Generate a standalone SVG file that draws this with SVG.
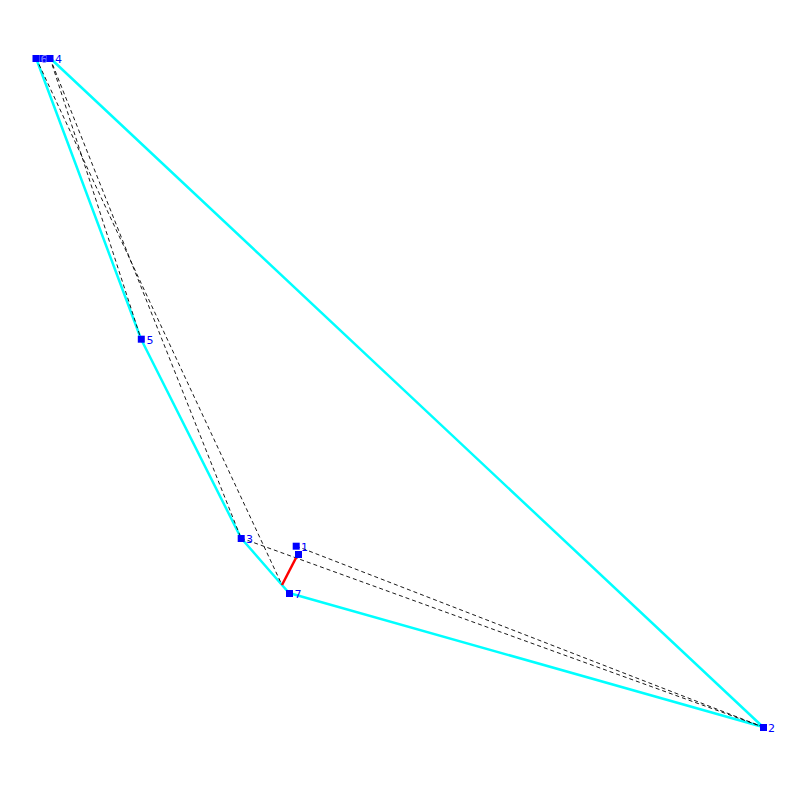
<svg xmlns="http://www.w3.org/2000/svg" width="800" height="800" viewBox="0 0 800 800">
<style>
.hull{stroke:#00ffff;stroke-width:2.5;fill:none;stroke-linejoin:round}
.hid{stroke:#000;stroke-width:0.9;stroke-dasharray:4 3;fill:none}
.red{stroke:#ff0000;stroke-width:2.5;fill:none}
.pt{fill:#0000ff}
.lbl{fill:#0000ff;font-family:"DejaVu Sans","Liberation Sans",sans-serif;font-size:11px}
</style>
<rect width="800" height="800" fill="#ffffff"/>
<g id="connectors">
<polyline class="hull" points="50,58 763,727 289,593 241,538 141,339 36,58"/>
<line class="hid" x1="50" y1="58" x2="141" y2="339"/>
<line class="hid" x1="50" y1="58" x2="241" y2="538"/>
<line class="hid" x1="36" y1="58" x2="282" y2="585"/>
<line class="hid" x1="241" y1="538" x2="763" y2="727"/>
<line class="hid" x1="296" y1="546" x2="763" y2="727"/>
<line class="red" x1="298" y1="554" x2="282" y2="585"/>
</g>
<g id="node-6"><rect class="pt" x="32.5" y="55" width="7" height="7"/><rect class="pt" x="39.5" y="55" width="7" height="7"/><text class="lbl" x="40.5" y="62.5" style="fill:#8080ff">6</text></g>
<g id="node-4"><rect class="pt" x="46.5" y="55" width="7" height="7"/><text class="lbl" x="55" y="62.5">4</text></g>
<g id="node-5"><rect class="pt" x="137.8" y="335.7" width="7" height="7"/><text class="lbl" x="146.5" y="343.5">5</text></g>
<g id="node-3"><rect class="pt" x="237.7" y="535" width="7" height="7"/><text class="lbl" x="246" y="542.5">3</text></g>
<g id="node-1"><rect class="pt" x="292.7" y="542.7" width="7" height="7"/><text class="lbl" x="301" y="550.5">1</text></g>
<g id="node-1b"><rect class="pt" x="295" y="551" width="7" height="7"/></g>
<g id="node-7"><rect class="pt" x="286" y="590" width="7" height="7"/><text class="lbl" x="294.5" y="597.5">7</text></g>
<g id="node-2"><rect class="pt" x="760" y="724" width="7" height="7"/><text class="lbl" x="768" y="731.5">2</text></g>
</svg>
